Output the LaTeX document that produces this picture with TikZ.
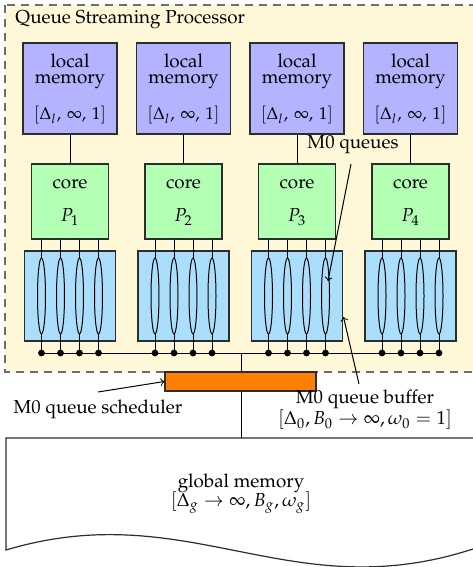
\documentclass[tikz,border=0pt]{standalone}
\usepackage[T1]{fontenc}
\usepackage{mathpazo}
\usetikzlibrary{shapes.geometric}
\definecolor{cream}{RGB}{255,248,216}
\definecolor{memblue}{RGB}{179,179,255}
\definecolor{coregreen}{RGB}{179,255,179}
\definecolor{bufblue}{RGB}{170,222,250}
\definecolor{schedorange}{RGB}{255,128,0}
\definecolor{edgegray}{RGB}{45,45,45}
\definecolor{dashgray}{RGB}{110,110,110}
\begin{document}
\begin{tikzpicture}[x=0.5pt,y=-0.5pt,
  font=\fontsize{9.4}{11}\selectfont,
  every path/.style={line width=0.5pt},
  txt/.style={inner sep=0pt},
  membox/.style={draw=edgegray,fill=memblue,minimum width=47pt,minimum height=45.5pt,inner sep=0pt,line width=0.6pt},
  corebox/.style={draw=edgegray,fill=coregreen,minimum width=38.5pt,minimum height=37.5pt,inner sep=0pt,line width=0.6pt},
  bufbox/.style={draw=edgegray,fill=bufblue,minimum width=45.5pt,minimum height=45pt,inner sep=0pt,line width=0.6pt},
  queue/.style={ellipse,draw=black,fill=bufblue,minimum width=4pt,minimum height=38pt,inner sep=0pt,line width=0.5pt},
  busdot/.style={circle,fill=black,minimum size=3.4pt,inner sep=0pt},
  schedbox/.style={draw=edgegray,fill=schedorange,minimum width=75.5pt,minimum height=9.5pt,inner sep=0pt,line width=0.6pt},
  wire/.style={draw=black,line width=0.5pt},
  pointer/.style={->,draw=black,line width=0.5pt}]
\useasboundingbox (0,0) rectangle (472,567);
% processor frame
\draw[dashed,dash pattern=on 4pt off 3pt,draw=dashgray,fill=cream,line width=0.75pt] (5,5) rectangle (476,372);
\node[txt,anchor=west] (title) at (15,20) {Queue Streaming Processor};
% columns
\foreach \i/\cx in {1/70,2/183.5,3/297,4/410.5}{
  \node[membox] (mem\i) at (\cx,88.5) {};
  \node[txt] (loc\i) at (\cx,61) {local};
  \node[txt] (memt\i) at (\cx,82) {memory};
  \node[txt,font=\fontsize{8.6}{10}\selectfont] (lp\i) at (\cx,115) {$[\Delta_l,\,\infty,\,1]$};
  \node[corebox] (core\i) at (\cx,201.5) {};
  \node[txt] (coret\i) at (\cx,184) {core};
  \node[txt] (p\i) at (\cx,217) {$P_\i$};
  \draw[wire] (mem\i.south) -- (core\i.north);
  \node[bufbox] (buf\i) at (\cx,296) {};
  \foreach \j/\o in {1/-28.5,2/-9.5,3/9.5,4/28.5}{
    \coordinate (d\i-\j) at (\cx+\o,353);
    \draw[wire] (core\i.south -| d\i-\j) -- (d\i-\j);
    \node[queue] (q\i-\j) at (\cx+\o,296) {};
  }
}
% bus
\draw[wire] (d1-1) -- (d4-4);
\foreach \i in {1,...,4}{\foreach \j in {1,...,4}{\node[busdot] (bd\i-\j) at (d\i-\j) {};}}
% global memory
\coordinate (tap) at (241,353);
\coordinate (gmtop) at (241,438);
\draw[draw=edgegray,fill=white,line width=0.6pt] (6,438) -- (476,438) -- (476,548)
  .. controls (290,610) and (190,495) .. (6,550) -- cycle;
\draw[wire] (tap) -- (gmtop);
\node[txt] (gm1) at (241,483) {global memory};
\node[txt] (gm2) at (241,503) {$[\Delta_g\rightarrow\infty,B_g,\omega_g]$};
% scheduler
\node[schedbox] (sched) at (240.5,381.5) {};
\node[txt] (schedt) at (98,409) {M0 queue scheduler};
\coordinate (schs) at (98,392);
\draw[pointer] (schs) -- (sched.west);
% M0 queues label
\node[txt] (mqt) at (353,145) {M0 queues};
\coordinate (mqs) at (351,164);
\coordinate (mqe) at (328,281);
\draw[pointer] (mqs) -- (mqe);
% M0 queue buffer label
\node[txt] (mbt1) at (365,399) {M0 queue buffer};
\node[txt] (mbt2) at (365,420) {$[\Delta_0,B_0\rightarrow\infty,\omega_0=1]$};
\coordinate (mbs) at (359,384);
\coordinate (mbe) at (343.5,317);
\draw[pointer] (mbs) -- (mbe);
\end{tikzpicture}
\end{document}
